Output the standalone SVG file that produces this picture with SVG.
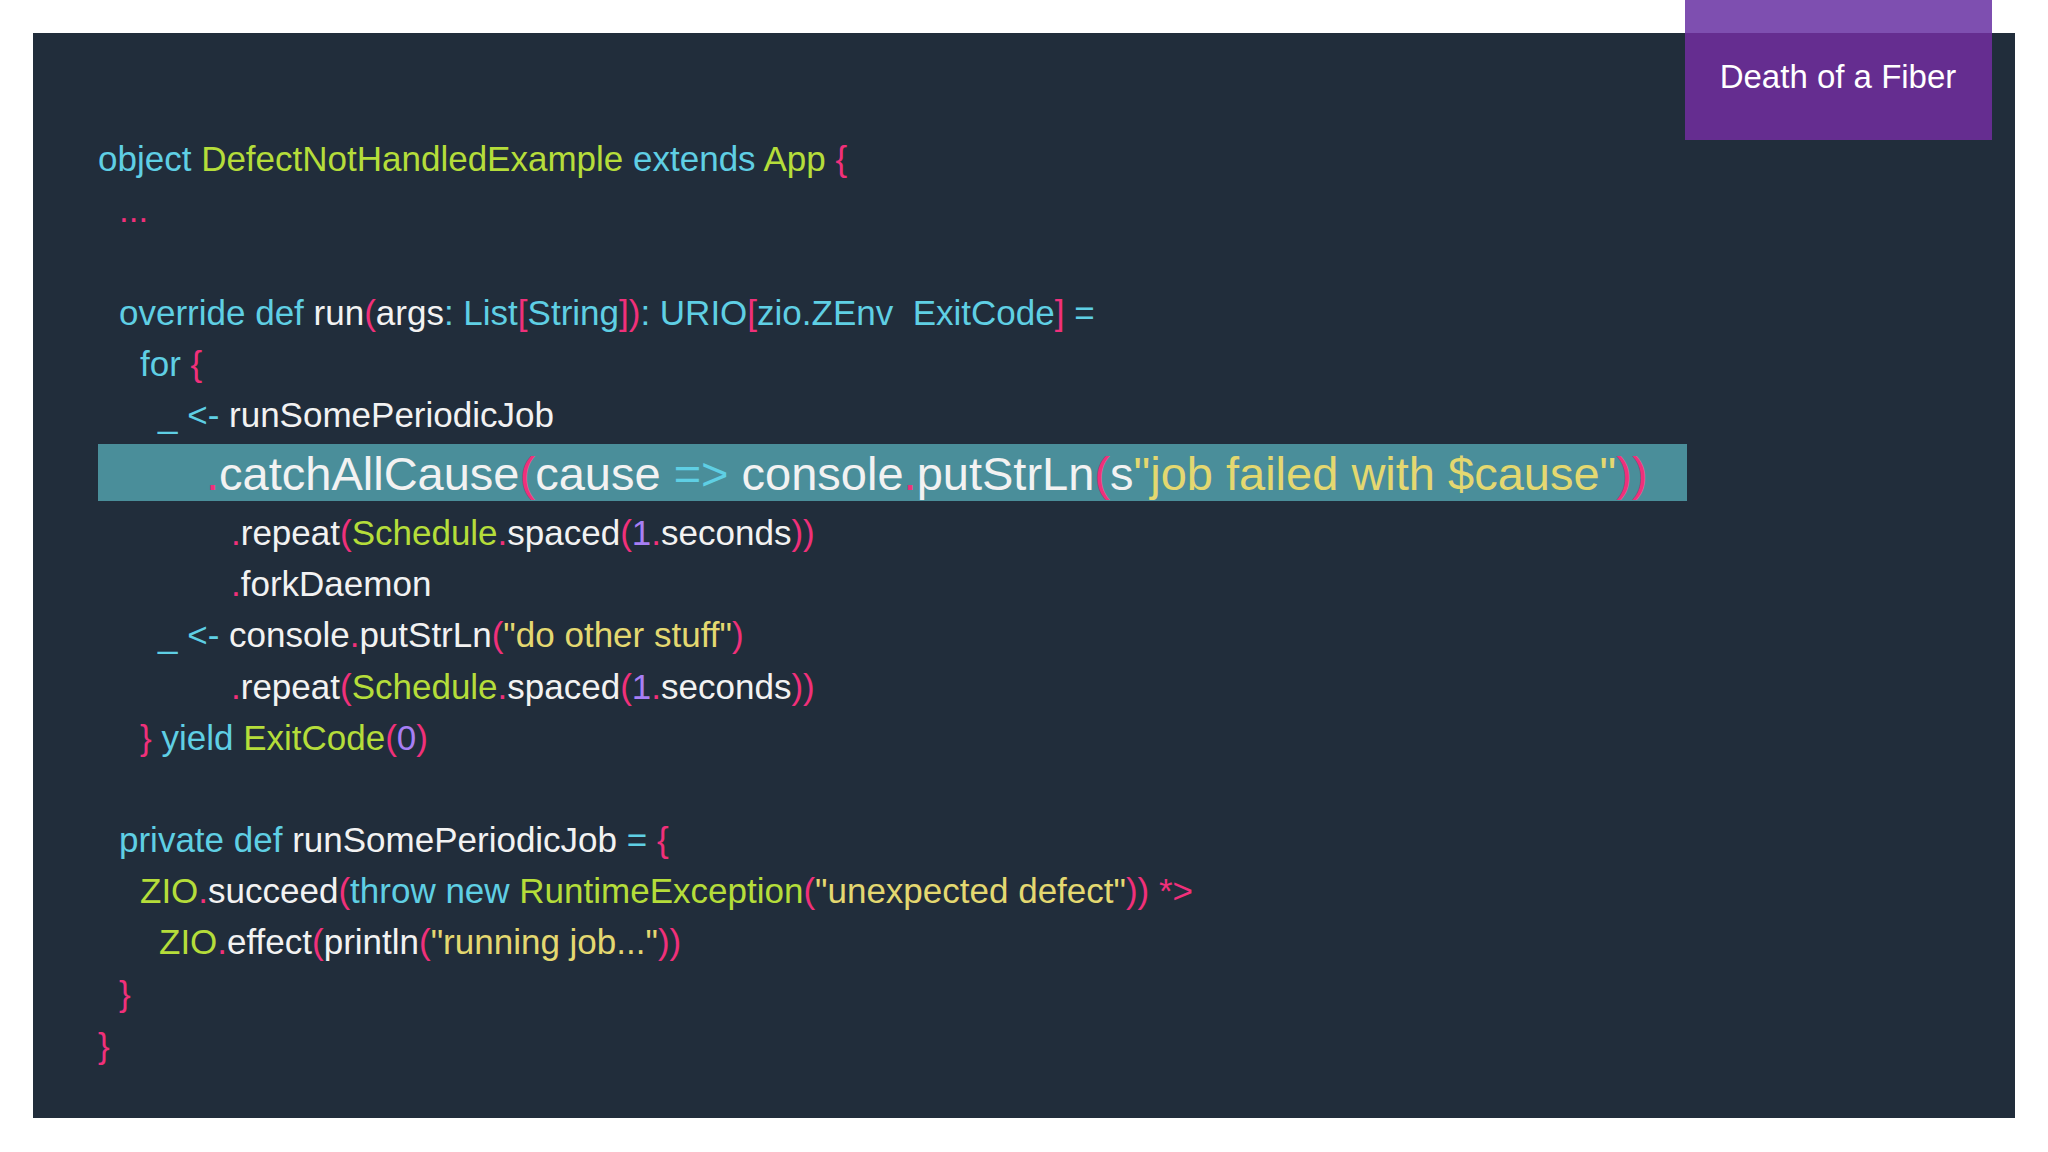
<svg xmlns="http://www.w3.org/2000/svg" width="2048" height="1152" viewBox="0 0 2048 1152">
<style>
text{font-family:"Liberation Sans",Arial,sans-serif;font-size:35px;white-space:pre}
.k{fill:#5fcfe4}.g{fill:#b5dd3a}.p{fill:#f0307a}.w{fill:#f2f2f2}.y{fill:#e4d870}.n{fill:#a77ff5}
.big{font-size:47px}
</style>
<rect width="2048" height="1152" fill="#ffffff"/>
<rect x="33" y="33" width="1982" height="1085" fill="#212d3b"/>
<g id="title">
<rect x="1685" y="0" width="307" height="140" fill="#652d90"/>
<rect x="1685" y="0" width="307" height="33" fill="#7e4fb0"/>
<text x="1838" y="88" text-anchor="middle" fill="#ffffff" style="font-size:33px">Death of a Fiber</text>
</g>
<g id="code">
<rect x="98" y="444" width="1589" height="57" fill="#4a8e9a"/>
<text x="98" y="171"><tspan class="k">object </tspan><tspan class="g">DefectNotHandledExample </tspan><tspan class="k">extends </tspan><tspan class="g">App </tspan><tspan class="p">{</tspan></text>
<text x="119" y="222" class="p">...</text>
<text x="119" y="325"><tspan class="k">override def </tspan><tspan class="w">run</tspan><tspan class="p">(</tspan><tspan class="w">args</tspan><tspan class="k">: List</tspan><tspan class="p">[</tspan><tspan class="k">String</tspan><tspan class="p">])</tspan><tspan class="k">: URIO</tspan><tspan class="p">[</tspan><tspan class="k">zio.ZEnv  ExitCode</tspan><tspan class="p">]</tspan><tspan class="k"> =</tspan></text>
<text x="140" y="376"><tspan class="k">for </tspan><tspan class="p">{</tspan></text>
<text x="158" y="427"><tspan class="k">_ &lt;- </tspan><tspan class="w">runSomePeriodicJob</tspan></text>
<text x="206" y="490" class="big"><tspan class="p">.</tspan><tspan class="w">catchAllCause</tspan><tspan class="p">(</tspan><tspan class="w">cause </tspan><tspan class="k">=&gt; </tspan><tspan class="w">console</tspan><tspan class="p">.</tspan><tspan class="w">putStrLn</tspan><tspan class="p">(</tspan><tspan class="w">s</tspan><tspan class="y">"job failed with $cause"</tspan><tspan class="p">))</tspan></text>
<text x="231" y="545"><tspan class="p">.</tspan><tspan class="w">repeat</tspan><tspan class="p">(</tspan><tspan class="g">Schedule</tspan><tspan class="p">.</tspan><tspan class="w">spaced</tspan><tspan class="p">(</tspan><tspan class="n">1</tspan><tspan class="p">.</tspan><tspan class="w">seconds</tspan><tspan class="p">))</tspan></text>
<text x="231" y="596"><tspan class="p">.</tspan><tspan class="w">forkDaemon</tspan></text>
<text x="158" y="647"><tspan class="k">_ &lt;- </tspan><tspan class="w">console</tspan><tspan class="p">.</tspan><tspan class="w">putStrLn</tspan><tspan class="p">(</tspan><tspan class="y">"do other stuff"</tspan><tspan class="p">)</tspan></text>
<text x="231" y="699"><tspan class="p">.</tspan><tspan class="w">repeat</tspan><tspan class="p">(</tspan><tspan class="g">Schedule</tspan><tspan class="p">.</tspan><tspan class="w">spaced</tspan><tspan class="p">(</tspan><tspan class="n">1</tspan><tspan class="p">.</tspan><tspan class="w">seconds</tspan><tspan class="p">))</tspan></text>
<text x="140" y="750"><tspan class="p">} </tspan><tspan class="k">yield </tspan><tspan class="g">ExitCode</tspan><tspan class="p">(</tspan><tspan class="n">0</tspan><tspan class="p">)</tspan></text>
<text x="119" y="852"><tspan class="k">private def </tspan><tspan class="w">runSomePeriodicJob </tspan><tspan class="k">= </tspan><tspan class="p">{</tspan></text>
<text x="140" y="903"><tspan class="g">ZIO</tspan><tspan class="p">.</tspan><tspan class="w">succeed</tspan><tspan class="p">(</tspan><tspan class="k">throw new </tspan><tspan class="g">RuntimeException</tspan><tspan class="p">(</tspan><tspan class="y">"unexpected defect"</tspan><tspan class="p">)) *&gt;</tspan></text>
<text x="159" y="954"><tspan class="g">ZIO</tspan><tspan class="p">.</tspan><tspan class="w">effect</tspan><tspan class="p">(</tspan><tspan class="w">println</tspan><tspan class="p">(</tspan><tspan class="y">"running job..."</tspan><tspan class="p">))</tspan></text>
<text x="119" y="1006" class="p">}</text>
<text x="98" y="1058" class="p">}</text>
</g>
</svg>
